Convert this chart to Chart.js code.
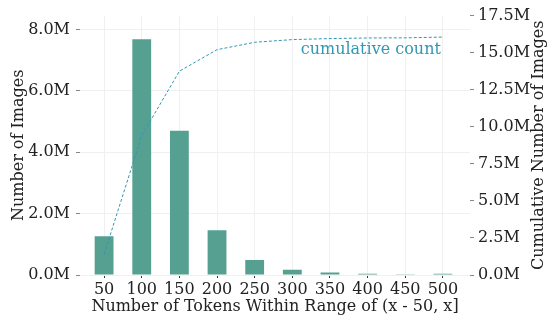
<!DOCTYPE html>
<html>
<head>
<meta charset="utf-8">
<script src="https://cdn.jsdelivr.net/npm/chart.js@4"></script>
<style>
  html, body { margin: 0; padding: 0; background: #fff; }
  #wrap { width: 548px; height: 317px; }
</style>
</head>
<body>
<div id="wrap"><canvas id="chart"></canvas></div>
<script>
// token-count bins (upper edge of each 50-token range)
const bins = [50, 100, 150, 200, 250, 300, 350, 400, 450, 500];
// images per bin
const counts = [1.26e6, 7.68e6, 4.70e6, 1.46e6, 0.49e6, 0.17e6, 0.08e6, 0.04e6, 0.01e6, 0.04e6];
// cumulative number of images
const cumulative = [1.40e6, 9.40e6, 13.75e6, 15.20e6, 15.70e6, 15.88e6, 15.95e6, 15.99e6, 16.00e6, 16.05e6];
const leftTicks = [0, 2e6, 4e6, 6e6, 8e6];
const rightTicks = [0, 2.5e6, 5e6, 7.5e6, 10e6, 12.5e6, 15e6, 17.5e6];

const barColor = "#55a091";
const lineColor = "#3297b2";
const gridColor = "#f0f0f0";
const font = { family: "DejaVu Serif", size: 16 };
const fmtM = (v) => (v / 1e6).toFixed(1) + "M";

// "cumulative count" label under the line end, and the right axis title
// (Chart.js turns right-side titles the other way, so draw it here)
const extraText = {
  id: "extraText",
  afterDraw(chart) {
    const { ctx, scales, width } = chart;
    const i = bins.length - 1;
    const x = scales.x.getPixelForValue(bins[i]);
    const y = scales.y1.getPixelForValue(cumulative[i]);
    ctx.save();
    ctx.font = "16px 'DejaVu Serif'";
    ctx.fillStyle = lineColor;
    ctx.textAlign = "right";
    ctx.textBaseline = "middle";
    ctx.fillText("cumulative count", x - 2, y + 13);

    const a = chart.chartArea;
    ctx.fillStyle = "#222";
    ctx.textAlign = "center";
    ctx.translate(width - 9, (a.top + a.bottom) / 2);
    ctx.rotate(-Math.PI / 2);
    ctx.fillText("Cumulative Number of Images", 0, 0);
    ctx.restore();
  },
};

new Chart(document.getElementById("chart"), {
  data: {
    datasets: [
      {
        type: "line",
        label: "cumulative count",
        data: bins.map((b, i) => ({ x: b, y: cumulative[i] })),
        yAxisID: "y1",
        borderColor: lineColor,
        borderWidth: 1,
        borderDash: [3, 2],
        pointRadius: 0,
        fill: false,
        order: 0,
      },
      {
        type: "bar",
        label: "Number of Images",
        data: bins.map((b, i) => ({ x: b, y: counts[i] })),
        yAxisID: "y",
        backgroundColor: barColor,
        borderWidth: 0,
        categoryPercentage: 1,
        barPercentage: 0.5,
        order: 1,
      },
    ],
  },
  options: {
    responsive: true,
    maintainAspectRatio: false,
    animation: false,
    layout: { padding: { top: 14 } },
    plugins: { legend: { display: false }, tooltip: { enabled: false } },
    scales: {
      x: {
        type: "linear",
        offset: false,
        min: 18,
        max: 536,
        afterBuildTicks: (s) => { s.ticks = bins.map((v) => ({ value: v })); },
        afterFit: (s) => { s.height = 42; },
        grid: { color: gridColor, offset: false, tickLength: 3, tickColor: "#333" },
        border: { display: false },
        ticks: { font, color: "#222", padding: 2, maxRotation: 0, autoSkip: false },
        title: {
          display: true,
          text: "Number of Tokens Within Range of (x - 50, x]",
          font,
          color: "#222",
          padding: { top: 0, bottom: 1 },
        },
      },
      y: {
        position: "left",
        min: 0,
        max: 8.45e6,
        afterBuildTicks: (s) => { s.ticks = leftTicks.map((v) => ({ value: v })); },
        afterFit: (s) => { s.width = 80; },
        grid: { color: gridColor, tickLength: 4, tickColor: "#888" },
        border: { display: false },
        ticks: { font, color: "#222", padding: 6, callback: fmtM },
        title: {
          display: true,
          text: "Number of Images",
          font,
          color: "#222",
          padding: { top: 9, bottom: 0 },
        },
      },
      y1: {
        position: "right",
        min: 0,
        max: 17.5e6,
        afterBuildTicks: (s) => { s.ticks = rightTicks.map((v) => ({ value: v })); },
        afterFit: (s) => { s.width = 78; },
        grid: { drawOnChartArea: false, tickLength: 4, tickColor: "#888" },
        border: { display: false },
        ticks: { font, color: "#222", padding: 4, callback: fmtM },
        title: { display: false },
      },
    },
  },
  plugins: [extraText],
});
</script>
</body>
</html>
